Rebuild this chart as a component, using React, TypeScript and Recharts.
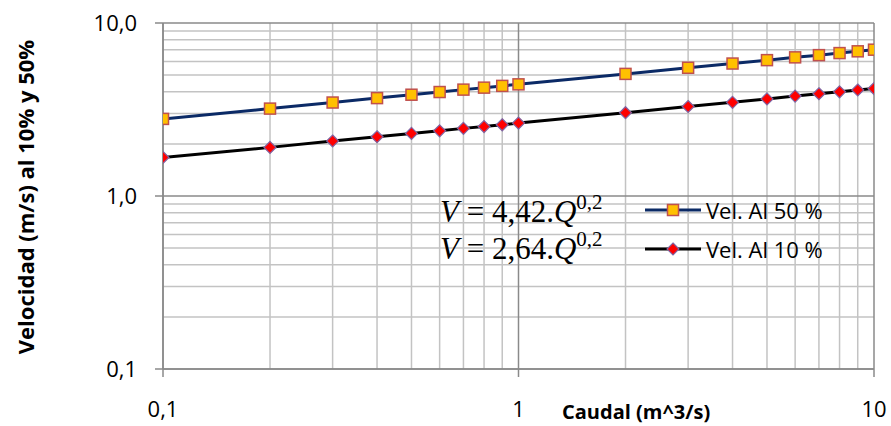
import React from 'react';
import { LineChart, Line, XAxis, YAxis, CartesianGrid, Legend, Customized } from 'recharts';

const caudal = [0.1, 0.2, 0.3, 0.4, 0.5, 0.6, 0.7, 0.8, 0.9, 1, 2, 3, 4, 5, 6, 7, 8, 9, 10];
const vel50 = [2.79, 3.2, 3.47, 3.68, 3.85, 3.99, 4.12, 4.23, 4.33, 4.42, 5.08, 5.51, 5.83, 6.1, 6.33, 6.52, 6.7, 6.86, 7.01];
const vel10 = [1.67, 1.91, 2.08, 2.2, 2.3, 2.38, 2.46, 2.52, 2.58, 2.64, 3.03, 3.29, 3.48, 3.64, 3.78, 3.9, 4.0, 4.1, 4.18];

const majorTicks = [0.1, 1, 10];
const minorTicks = [0.2, 0.3, 0.4, 0.5, 0.6, 0.7, 0.8, 0.9, 2, 3, 4, 5, 6, 7, 8, 9];

const seriesNames = ['Vel. Al 50 %', 'Vel. Al 10 %'];
const xTitle = 'Caudal (m^3/s)';
const yTitle = 'Velocidad (m/s) al 10% y 50%';

const data = caudal.map((q, i) => ({ q, v50: vel50[i], v10: vel10[i] }));

const FONT = '"Open Sans", sans-serif';
const SERIF = '"Liberation Serif", "Times New Roman", serif';

const C50 = '#0B2A66';
const C10 = '#000000';

const SquareMark = ({ cx, cy, s = 11 }: any) =>
  cx == null || cy == null ? null : (
    <rect x={cx - s / 2} y={cy - s / 2} width={s} height={s} fill="#FFC000" stroke="#C0504D" strokeWidth={1.5} />
  );

const DiamondMark = ({ cx, cy, r = 6 }: any) =>
  cx == null || cy == null ? null : (
    <polygon
      points={`${cx},${cy - r} ${cx + r},${cy} ${cx},${cy + r} ${cx - r},${cy}`}
      fill="#FF0000"
      stroke="#8064A2"
      strokeWidth={1.2}
    />
  );

const LegendContent = () => (
  <div style={{ fontFamily: FONT, fontSize: 22, color: '#000' }}>
    {seriesNames.map((name, i) => (
      <div key={name} style={{ display: 'flex', alignItems: 'center', height: 39 }}>
        <svg width={58} height={20} style={{ display: 'block' }}>
          <line x1={0} y1={10} x2={56} y2={10} stroke={i === 0 ? C50 : C10} strokeWidth={3} />
          {i === 0 ? <SquareMark cx={28} cy={10} /> : <DiamondMark cx={28} cy={10} />}
        </svg>
        <span style={{ marginLeft: 3, lineHeight: '22px' }}>{name}</span>
      </div>
    ))}
  </div>
);

const Annotations = () => (
  <g>
    <text x={440} y={222} fontFamily={SERIF} fontSize={31} fill="#000">
      <tspan fontStyle="italic">V</tspan>
      <tspan> = 4,42.</tspan>
      <tspan fontStyle="italic">Q</tspan>
      <tspan fontSize={21} dy={-13}>0,2</tspan>
    </text>
    <text x={440} y={259} fontFamily={SERIF} fontSize={31} fill="#000">
      <tspan fontStyle="italic">V</tspan>
      <tspan> = 2,64.</tspan>
      <tspan fontStyle="italic">Q</tspan>
      <tspan fontSize={21} dy={-13}>0,2</tspan>
    </text>
    <text
      transform="translate(25,197) rotate(-90)"
      textAnchor="middle"
      dominantBaseline="central"
      fontFamily={FONT}
      fontWeight={700}
      fontSize={22}
      fill="#000"
    >
      {yTitle}
    </text>
    <text x={562} y={411} dominantBaseline="central" fontFamily={FONT} fontWeight={700} fontSize={20} fill="#000">
      {xTitle}
    </text>
  </g>
);

export default function App() {
  return (
    <div style={{ position: 'relative', width: 891, height: 426 }}>
      <style>{'body{margin:0;}'}</style>
      <LineChart width={891} height={426} data={data} margin={{ top: 23, right: 17, bottom: 0, left: 0 }}>
        <CartesianGrid
          stroke="#C3C3C3"
          strokeWidth={1.5}
          verticalValues={minorTicks}
          horizontalValues={minorTicks}
        />
        <CartesianGrid
          stroke="#8A8A8A"
          strokeWidth={1.5}
          verticalValues={majorTicks}
          horizontalValues={majorTicks}
        />
        <XAxis
          dataKey="q"
          type="number"
          scale="log"
          domain={[0.1, 10]}
          ticks={majorTicks}
          interval={0}
          allowDataOverflow
          height={57}
          tickSize={8}
          tickMargin={24}
          stroke="#8A8A8A"
          strokeWidth={1.5}
          tick={{ fill: '#000', fontSize: 22, fontFamily: FONT }}
          tickFormatter={(v: number) => String(v).replace('.', ',')}
        />
        <YAxis
          type="number"
          scale="log"
          domain={[0.1, 10]}
          ticks={majorTicks}
          interval={0}
          allowDataOverflow
          width={163}
          tickSize={8}
          tickMargin={18}
          stroke="#8A8A8A"
          strokeWidth={1.5}
          tick={{ fill: '#000', fontSize: 22, fontFamily: FONT }}
          tickFormatter={(v: number) => v.toFixed(1).replace('.', ',')}
        />
        <Line
          type="linear"
          dataKey="v10"
          name={seriesNames[1]}
          stroke={C10}
          strokeWidth={3}
          isAnimationActive={false}
          dot={(p: any) => <DiamondMark key={`d${p.index}`} cx={p.cx} cy={p.cy} />}
          activeDot={false}
        />
        <Line
          type="linear"
          dataKey="v50"
          name={seriesNames[0]}
          stroke={C50}
          strokeWidth={3}
          isAnimationActive={false}
          dot={(p: any) => <SquareMark key={`s${p.index}`} cx={p.cx} cy={p.cy} />}
          activeDot={false}
        />
        <Customized component={Annotations} />
        <Legend
          layout="vertical"
          align="center"
          verticalAlign="middle"
          content={LegendContent}
          wrapperStyle={{ position: 'absolute', left: 645, top: 190, width: 200, height: 78 }}
        />
      </LineChart>
    </div>
  );
}
